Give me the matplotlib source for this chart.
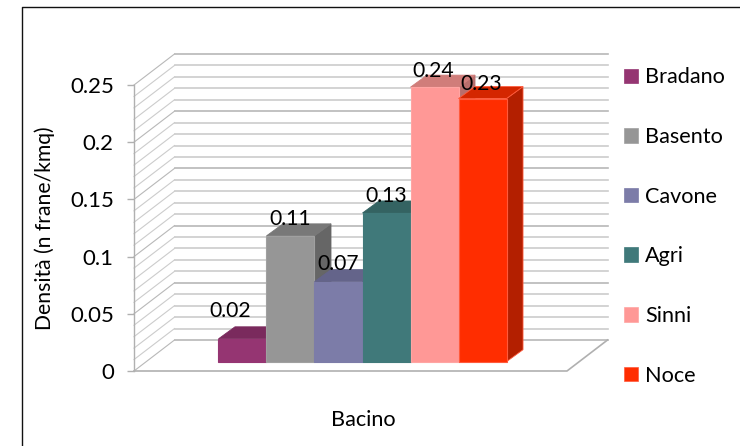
import matplotlib
matplotlib.use("Agg")
import matplotlib.pyplot as plt
from matplotlib.patches import Polygon, Patch
from matplotlib.lines import Line2D

basins = ["Bradano", "Basento", "Cavone", "Agri", "Sinni", "Noce"]
density = [0.02, 0.11, 0.07, 0.13, 0.24, 0.23]
y_ticks = [0, 0.05, 0.1, 0.15, 0.2, 0.25]
y_tick_labels = ["0", "0.05", "0.1", "0.15", "0.2", "0.25"]
grid_levels = [i / 100 for i in range(26)]

front_colors = ["#953572", "#969696", "#7c7ca8", "#40797a", "#ff9896", "#ff2d00"]
top_colors = ["#7a2a5d", "#787878", "#64648a", "#346362", "#d07d7a", "#d42600"]
side_colors = ["#6c2452", "#666666", "#585878", "#2e5756", "#b86e6c", "#b31f00"]
edge_colors = ["#953572", "#a0a0a0", "#7c7ca8", "#40797a", "#ffa5a3", "#ff5a3c"]
# label shift in px from the top centre of each bar front
label_shift = [(-12, 28), (0, 17), (0, 18), (0, 17), (-1, 16), (-1, 15)]

W, H = 740, 446
plt.rcParams["font.family"] = ["Lato", "DejaVu Sans"]
FS = 15.6
fig = plt.figure(figsize=(W / 100, H / 100), dpi=100)
# axes = front plane of the 3d box, px 134..567 / 371..85
ax = fig.add_axes([134 / W, 1 - 371 / H, 433 / W, 286 / H])
ax.set_ylim(0, 0.25)
ax.set_xlim(-2.01, 7.01)
ax.patch.set_visible(False)

UX = 48.0          # px per category
UY = 286 / 0.25    # px per unit of density
def proj(x, y, px, py):
    # shift a data point by a screen offset in px, used for the box depth
    return x + px / UX, y + py / UY

x0, x1 = ax.get_xlim()
DX, DY = 40.5, 31   # depth of the box

# back wall and side wall gridlines
for g in grid_levels:
    major = abs(g * 20 - round(g * 20)) < 1e-9
    col = "#b8b8b8" if major else "#cccccc"
    bx0, by = proj(x0, g, DX, DY)
    bx1, _ = proj(x1, g, DX, DY)
    ax.add_line(Line2D([bx0, bx1], [by, by], color=col, lw=1.2, clip_on=False, zorder=1))
    ax.add_line(Line2D([x0, bx0], [g, by], color=col, lw=0.8, clip_on=False, zorder=1))

# floor
fx, fy = proj(x1, 0, DX, DY)
ax.add_line(Line2D([x0, x1, fx], [0, 0, fy], color="#b0b0b0", lw=1.2, clip_on=False, zorder=1))

# bars, front face starts 9 px into the box and goes 12 px deeper
fd = (12, 9.3)
bd = (28.5, 21.3)
for i, v in enumerate(density):
    l, r = i - 0.5, i + 0.5
    a = proj(l, 0, *fd); b = proj(r, 0, *fd)
    c = proj(r, v, *fd); d = proj(l, v, *fd)
    e = proj(l, v, *bd); f = proj(r, v, *bd); g = proj(r, 0, *bd)
    ax.add_patch(Polygon([c, f, g, b], fc=side_colors[i], ec=edge_colors[i] if i == 5 else side_colors[i],
                         lw=0.6, clip_on=False, zorder=2 + i))
    ax.add_patch(Polygon([d, e, f, c], fc=top_colors[i], ec=edge_colors[i] if i == 5 else top_colors[i],
                         lw=0.6, clip_on=False, zorder=2 + i))
    ax.add_patch(Polygon([a, b, c, d], fc=front_colors[i], ec=edge_colors[i], lw=0.8,
                         clip_on=False, zorder=2 + i))
    ax.annotate(f"{v:.2f}", proj(i, v, *fd), xytext=(label_shift[i][0] * 0.72, label_shift[i][1] * 0.72),
                textcoords="offset points", ha="center", va="center", fontsize=15.2,
                color="black", zorder=20, annotation_clip=False)

for s in ["top", "right", "bottom"]:
    ax.spines[s].set_visible(False)
ax.spines["left"].set_color("#b0b0b0")
ax.spines["left"].set_linewidth(1.0)
ax.set_xticks([])
ax.set_yticks(y_ticks)
ax.set_yticklabels(y_tick_labels, fontsize=16)
ax.tick_params(axis="y", length=5, width=1, color="#b0b0b0", pad=9.5)

fig.text(45 / W, 1 - 228 / H, "Densità (n frane/kmq)", rotation=90, ha="center", va="center", fontsize=15.2)
fig.text(363 / W, 1 - 420 / H, "Bacino", ha="center", va="center", fontsize=FS)

handles = [Patch(fc=front_colors[i], ec=edge_colors[i], lw=0.5, label=basins[i]) for i in range(6)]
fig.legend(handles=handles, loc="center left", bbox_to_anchor=(624 / W, 1 - 226.5 / H), frameon=False,
           fontsize=FS, handlelength=0.65, handleheight=0.65, handletextpad=0.32,
           labelspacing=1.83, borderpad=0, borderaxespad=0)

# outer frame, left and top only
fig.add_artist(Line2D([21.5 / W, 21.5 / W, 1], [0, 1 - 6.5 / H, 1 - 6.5 / H], color="#111111", lw=1.0))

fig.savefig("out.png", dpi=100)
